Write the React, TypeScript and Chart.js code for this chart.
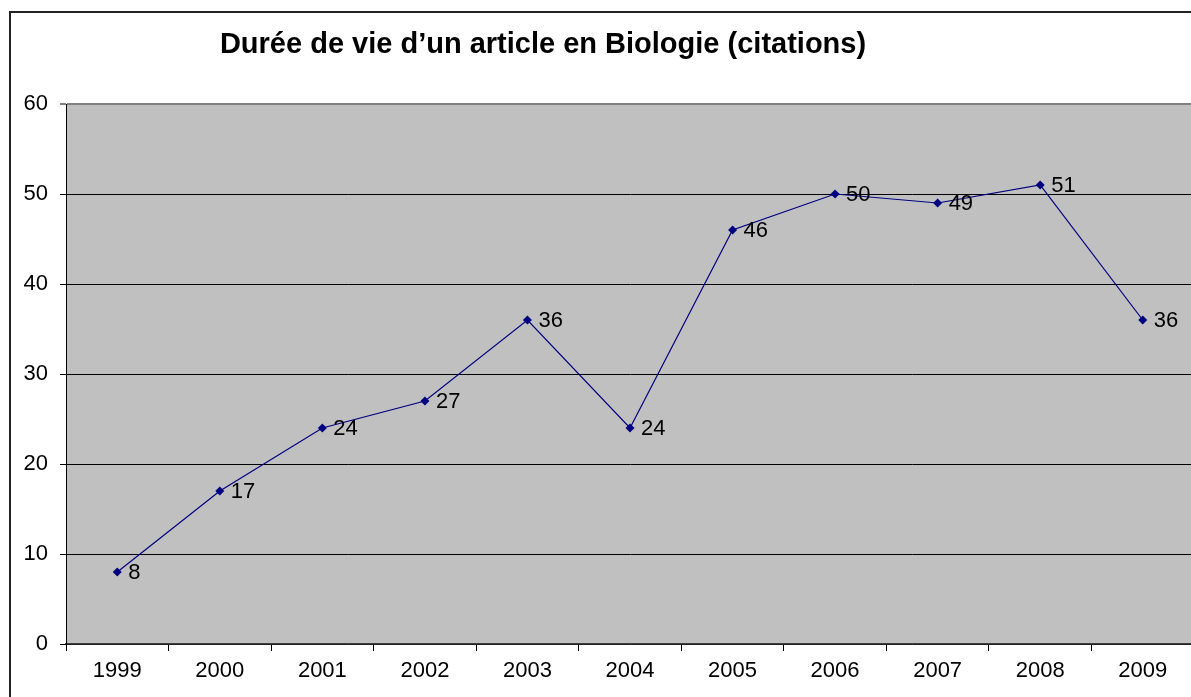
import React, { useEffect, useRef } from "react";
import { Chart, registerables } from "chart.js";

Chart.register(...registerables);

const TITLE = "Durée de vie d\u2019un article en Biologie (citations)";
const YEARS = ["1999", "2000", "2001", "2002", "2003", "2004", "2005", "2006", "2007", "2008", "2009"];
const CITATIONS = [8, 17, 24, 27, 36, 24, 46, 50, 49, 51, 36];
const Y_MIN = 0;
const Y_MAX = 60;
const Y_STEP = 10;

const FONT = "Arial, 'Liberation Sans', sans-serif";

export default function App() {
  const ref = useRef<HTMLCanvasElement | null>(null);

  useEffect(() => {
    if (!ref.current) return;
    const bgPlugin = {
      id: "plotBg",
      beforeDraw(chart: any) {
        const { ctx, chartArea } = chart;
        ctx.save();
        ctx.fillStyle = "#C0C0C0";
        ctx.fillRect(chartArea.left, chartArea.top, chartArea.right - chartArea.left, chartArea.bottom - chartArea.top);
        ctx.restore();
      },
    };
    const titlePlugin = {
      id: "customTitle",
      afterDraw(chart: any) {
        const ctx = chart.ctx;
        ctx.save();
        ctx.font = `bold 29px ${FONT}`;
        ctx.fillStyle = "#000";
        ctx.textAlign = "center";
        ctx.textBaseline = "middle";
        ctx.fillText(TITLE, 543, 45);
        ctx.restore();
      },
    };
    const labelPlugin = {
      id: "pointLabels",
      afterDatasetsDraw(chart: any) {
        const ctx = chart.ctx;
        const meta = chart.getDatasetMeta(0);
        ctx.save();
        ctx.font = `22px ${FONT}`;
        ctx.fillStyle = "#000";
        ctx.textAlign = "left";
        ctx.textBaseline = "middle";
        meta.data.forEach((pt: any, i: number) => {
          ctx.fillText(String(CITATIONS[i]), pt.x + 11, pt.y + 1);
        });
        ctx.restore();
      },
    };
    const chart = new Chart(ref.current, {
      type: "line",
      data: {
        labels: YEARS,
        datasets: [
          {
            data: CITATIONS,
            borderColor: "#000080",
            backgroundColor: "#000080",
            borderWidth: 1.2,
            pointStyle: "rectRot",
            pointRadius: 4.5,
            pointBorderWidth: 0,
            tension: 0,
          },
        ],
      },
      options: {
        animation: false,
        responsive: false,
        devicePixelRatio: 1,
        layout: { padding: { left: 0, top: 104, right: 26, bottom: 0 } },
        plugins: { legend: { display: false }, title: { display: false }, tooltip: { enabled: false } },
        scales: {
          x: {
            offset: true,
            grid: {
              offset: true,
              drawOnChartArea: false,
              drawTicks: true,
              tickLength: 7,
              color: "#000",
            },
            border: { color: "#404040", width: 1.5 },
            ticks: { color: "#000", font: { family: FONT, size: 22 }, padding: 7, maxRotation: 0 },
            afterFit(scale: any) {
              scale.height = 53;
            },
          },
          y: {
            min: Y_MIN,
            max: Y_MAX,
            ticks: { stepSize: Y_STEP, color: "#000", font: { family: FONT, size: 22 }, padding: 12 },
            grid: {
              color: (c: any) => (c.tick && c.tick.value === Y_MAX ? "#808080" : "#000"),
              lineWidth: (c: any) => (c.tick && c.tick.value === Y_MAX ? 2 : 1),
              tickLength: 6,
              drawTicks: true,
            },
            border: { color: "#000", width: 1 },
            afterFit(scale: any) {
              scale.width = 66;
            },
          },
        },
      },
      plugins: [bgPlugin, titlePlugin, labelPlugin],
    });
    return () => chart.destroy();
  }, []);

  return (
    <div style={{ position: "fixed", left: 0, top: 0, width: 1191, height: 697, overflow: "hidden", background: "#fff" }}>
      <canvas ref={ref} width={1220} height={697} style={{ position: "absolute", left: 0, top: 0, width: 1220, height: 697 }} />
      <div
        style={{
          position: "absolute",
          left: 9,
          top: 11,
          width: 1300,
          height: 800,
          borderLeft: "2px solid #222",
          borderTop: "2px solid #222",
          pointerEvents: "none",
        }}
      />
    </div>
  );
}
